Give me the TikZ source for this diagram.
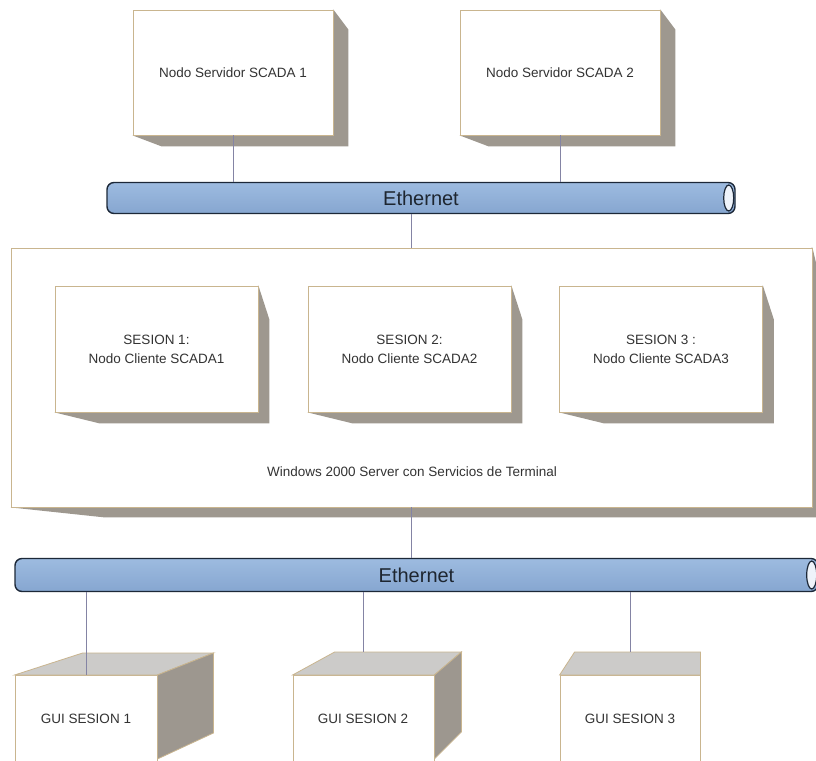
\documentclass[tikz,border=0pt]{standalone}
\usepackage{fontspec}
\setmainfont{Liberation Sans}
\usetikzlibrary{calc}
\pgfdeclarelayer{shadowA}
\pgfdeclarelayer{faceA}
\pgfdeclarelayer{shadowB}
\pgfsetlayers{shadowA,faceA,shadowB,main}

\definecolor{edgetan}{HTML}{C9B58F}
\definecolor{shadowgray}{HTML}{9E988F}
\definecolor{linkc}{HTML}{8484A4}
\definecolor{busline}{HTML}{1C2838}
\definecolor{bustop}{HTML}{9DBBE0}
\definecolor{busmid}{HTML}{D0E1F3}
\definecolor{busbot}{HTML}{86A6D0}
\definecolor{capfill}{HTML}{EEF3FA}
\definecolor{bustext}{HTML}{1E2630}
\definecolor{txt}{HTML}{333333}
\definecolor{guitop}{HTML}{CCCBC9}
\definecolor{guiside}{HTML}{9D978F}

\begin{document}
\begin{tikzpicture}[x=1pt,y=-1pt,
  box/.style={draw=edgetan, line width=0.8pt, fill=white, inner sep=0pt,
    text=txt, align=center, font=\fontsize{13.5}{19}\selectfont},
  srvbox/.style={box, minimum width=200pt, minimum height=125pt},
  sesbox/.style={box, minimum width=203pt, minimum height=126pt},
  guibox/.style={box, minimum width=142pt, minimum height=110pt, anchor=north},
  lbl/.style={inner sep=0pt, text=txt, font=\fontsize{13.5}{19}\selectfont},
  bus/.style={draw=busline, line width=1.4pt, rounded corners=7pt,
    top color=bustop, middle color=busmid, bottom color=busbot,
    inner sep=0pt, text=bustext, font=\fontsize{20}{24}\selectfont},
  buscap/.style={draw=busline, line width=1.2pt, fill=capfill},
  drop/.style={fill=shadowgray},
  topface/.style={fill=guitop, draw=edgetan, line width=0.8pt},
  sideface/.style={fill=guiside, draw=edgetan, line width=0.8pt},
  link/.style={draw=linkc, line width=0.9pt}]

\useasboundingbox (0,0) rectangle (816,760);
\begin{pgfonlayer}{shadowA}
  \fill[white] (0,0) rectangle (816,760);
\end{pgfonlayer}

% SCADA server nodes
\node[srvbox] (s1) at (233,72.5) {Nodo Servidor SCADA 1};
\node[srvbox] (s2) at (560,72.5) {Nodo Servidor SCADA 2};

% upper Ethernet segment
\node[bus, minimum width=628pt, minimum height=31pt] (e1) at (421,198) {Ethernet};
\draw[buscap] ($(e1.east)+(-7,0)$) ellipse [x radius=5, y radius=13];

% terminal server enclosing the client sessions
\begin{pgfonlayer}{faceA}
  \node[box, minimum width=801pt, minimum height=259pt] (ts) at (411.5,377.5) {};
\end{pgfonlayer}
\node[lbl] (tslbl) at (412,472) {Windows 2000 Server con Servicios de Terminal};

\node[sesbox] (c1) at (156.5,349) {SESION 1:\\Nodo Cliente SCADA1};
\node[sesbox] (c2) at (409.5,349) {SESION 2:\\Nodo Cliente SCADA2};
\node[sesbox] (c3) at (661,349) {SESION 3 :\\Nodo Cliente SCADA3};

% lower Ethernet segment
\node[bus, minimum width=803pt, minimum height=33pt] (e2) at (416.5,575) {Ethernet};
\draw[buscap] ($(e2.east)+(-7,0)$) ellipse [x radius=5, y radius=14];

% drop shadows
\begin{pgfonlayer}{shadowA}
  \fill[drop] (ts.north east) -- ++(10,42) -- ($(ts.south east)+(10,10)$)
    -- ($(ts.south west)+(94,10)$) -- (ts.south west) -- cycle;
\end{pgfonlayer}
\begin{pgfonlayer}{shadowB}
  \foreach \n in {s1,s2}
    \fill[drop] (\n.north east) -- ++(15,20) -- ($(\n.south east)+(15,11)$)
      -- ($(\n.south west)+(29,11)$) -- (\n.south west) -- cycle;
  \foreach \n in {c1,c2,c3}
    \fill[drop] (\n.north east) -- ++(11,34) -- ($(\n.south east)+(11,11)$)
      -- ($(\n.south west)+(45,11)$) -- (\n.south west) -- cycle;
\end{pgfonlayer}

% GUI client workstations
\node[guibox] (g1) at (86,675) {};
\draw[topface] (g1.north west) -- ++(68,-22) -- ($(g1.north east)+(56,-22)$) -- (g1.north east) -- cycle;
\draw[sideface] (g1.north east) -- ++(56,-22) -- ++(0,80) -- ($(g1.north east)+(0,84)$) -- cycle;
\node[lbl] (g1t) at (86,719) {GUI SESION 1};

\node[guibox, minimum width=141pt] (g2) at (363.5,675) {};
\draw[topface] (g2.north west) -- ++(42,-23) -- ($(g2.north east)+(27,-23)$) -- (g2.north east) -- cycle;
\draw[sideface] (g2.north east) -- ++(27,-23) -- ++(0,80) -- ($(g2.north east)+(0,84)$) -- cycle;
\node[lbl] (g2t) at (363,719) {GUI SESION 2};

\node[guibox, minimum width=140pt] (g3) at (630,675) {};
\draw[topface] (g3.north west) -- ++(15,-23) -- ($(g3.north east)+(0,-23)$) -- (g3.north east) -- cycle;
\node[lbl] (g3t) at (630,719) {GUI SESION 3};

% connections
\draw[link] (s1.south) -- (s1.south |- e1.north);
\draw[link] (s2.south) -- (s2.south |- e1.north);
\draw[link] (e1.south -| ts.north) -- (ts.north);
\draw[link] (ts.south) -- (ts.south |- e2.north);
\draw[link] (e2.south -| g1.north) -- (g1.north);
\draw[link] (e2.south -| g2.north) -- ($(g2.north)+(0,-23)$);
\draw[link] (e2.south -| g3.north) -- ($(g3.north)+(0,-23)$);
\end{tikzpicture}
\end{document}
